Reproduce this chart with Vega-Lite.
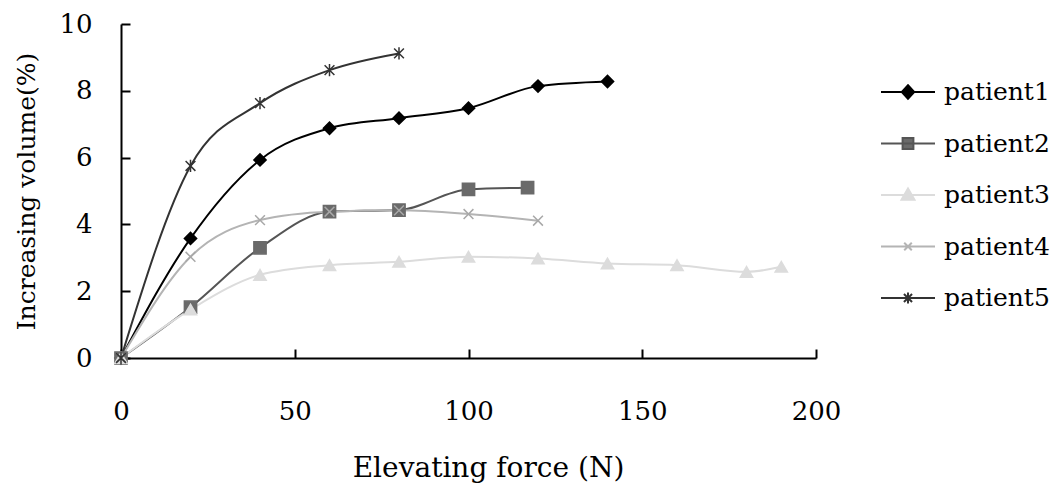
{
  "$schema": "https://vega.github.io/schema/vega-lite/v6.json",
  "width": 695,
  "height": 334,
  "autosize": {"type": "none"},
  "padding": {"left": 121, "top": 24, "right": 239, "bottom": 138},
  "background": "white",
  "data": {
    "values": [
      {"patient": "patient1", "force": 0, "volume": 0},
      {"patient": "patient1", "force": 20, "volume": 3.58},
      {"patient": "patient1", "force": 40, "volume": 5.93},
      {"patient": "patient1", "force": 60, "volume": 6.88},
      {"patient": "patient1", "force": 80, "volume": 7.18},
      {"patient": "patient1", "force": 100, "volume": 7.48},
      {"patient": "patient1", "force": 120, "volume": 8.14},
      {"patient": "patient1", "force": 140, "volume": 8.28},
      {"patient": "patient2", "force": 0, "volume": 0},
      {"patient": "patient2", "force": 20, "volume": 1.52},
      {"patient": "patient2", "force": 40, "volume": 3.3},
      {"patient": "patient2", "force": 60, "volume": 4.38},
      {"patient": "patient2", "force": 80, "volume": 4.43},
      {"patient": "patient2", "force": 100, "volume": 5.05},
      {"patient": "patient2", "force": 117, "volume": 5.1},
      {"patient": "patient3", "force": 0, "volume": 0},
      {"patient": "patient3", "force": 20, "volume": 1.45},
      {"patient": "patient3", "force": 40, "volume": 2.49},
      {"patient": "patient3", "force": 60, "volume": 2.78},
      {"patient": "patient3", "force": 80, "volume": 2.88},
      {"patient": "patient3", "force": 100, "volume": 3.03},
      {"patient": "patient3", "force": 120, "volume": 2.98},
      {"patient": "patient3", "force": 140, "volume": 2.83},
      {"patient": "patient3", "force": 160, "volume": 2.78},
      {"patient": "patient3", "force": 180, "volume": 2.58},
      {"patient": "patient3", "force": 190, "volume": 2.73},
      {"patient": "patient4", "force": 0, "volume": 0},
      {"patient": "patient4", "force": 20, "volume": 3.03},
      {"patient": "patient4", "force": 40, "volume": 4.13},
      {"patient": "patient4", "force": 60, "volume": 4.38},
      {"patient": "patient4", "force": 80, "volume": 4.42},
      {"patient": "patient4", "force": 100, "volume": 4.31},
      {"patient": "patient4", "force": 120, "volume": 4.11},
      {"patient": "patient5", "force": 0, "volume": 0},
      {"patient": "patient5", "force": 20, "volume": 5.75},
      {"patient": "patient5", "force": 40, "volume": 7.63},
      {"patient": "patient5", "force": 60, "volume": 8.62},
      {"patient": "patient5", "force": 80, "volume": 9.12}
    ]
  },
  "config": {
    "font": "DejaVu Serif",
    "view": {"stroke": null},
    "axis": {
      "grid": false,
      "domainColor": "#000000",
      "domainWidth": 2,
      "tickColor": "#000000",
      "tickWidth": 2,
      "tickSize": -9,
      "labelFlush": false,
      "labelColor": "#000000",
      "labelFont": "DejaVu Serif",
      "labelFontSize": 26,
      "labelFontWeight": "normal",
      "titleColor": "#000000",
      "titleFont": "DejaVu Serif",
      "titleFontSize": 25,
      "titleFontWeight": "normal"
    },
    "legend": {
      "labelFont": "DejaVu Serif",
      "labelFontSize": 25,
      "labelColor": "#000000"
    }
  },
  "encoding": {
    "x": {
      "field": "force",
      "type": "quantitative",
      "scale": {"domain": [0, 200], "nice": false},
      "axis": {
        "title": "Elevating force (N)",
        "values": [0, 50, 100, 150, 200],
        "labelPadding": 49,
        "titlePadding": 30,
        "titleFontSize": 28,
        "titleX": 367
      }
    },
    "y": {
      "field": "volume",
      "type": "quantitative",
      "scale": {"domain": [0, 10], "nice": false},
      "axis": {
        "title": "Increasing volume(%)",
        "values": [0, 2, 4, 6, 8, 10],
        "labelPadding": 38,
        "titlePadding": 19
      }
    }
  },
  "layer": [
    {
      "mark": {"type": "line", "interpolate": "monotone", "strokeWidth": 2},
      "encoding": {
        "stroke": {
          "field": "patient",
          "type": "nominal",
          "scale": {
            "domain": ["patient1", "patient2", "patient3", "patient4", "patient5"],
            "range": ["#000000", "#555555", "#dcdcdc", "#b4b4b4", "#333333"]
          },
          "legend": null
        }
      }
    },
    {
      "mark": {"type": "point", "filled": true, "size": 150, "strokeWidth": 1.5, "opacity": 1},
      "encoding": {
        "fill": {
          "field": "patient",
          "type": "nominal",
          "scale": {
            "domain": ["patient1", "patient2", "patient3", "patient4", "patient5"],
            "range": ["#000000", "#6a6a6a", "#dcdcdc", "#b4b4b4", "#333333"]
          },
          "legend": null
        },
        "stroke": {
          "field": "patient",
          "type": "nominal",
          "scale": {
            "domain": ["patient1", "patient2", "patient3", "patient4", "patient5"],
            "range": ["#000000", "#6a6a6a", "#dcdcdc", "#a8a8a8", "#333333"]
          },
          "legend": null
        },
        "shape": {
          "field": "patient",
          "type": "nominal",
          "scale": {
            "domain": ["patient1", "patient2", "patient3", "patient4", "patient5"],
            "range": [
              "diamond",
              "square",
              "triangle-up",
              "M-0.8,-0.8L0.8,0.8M-0.8,0.8L0.8,-0.8",
              "M-0.8,-0.8L0.8,0.8M-0.8,0.8L0.8,-0.8M0,-1V1"
            ]
          },
          "legend": null
        }
      }
    },
    {
      "transform": [{"filter": "false"}],
      "mark": {"type": "point", "filled": true, "size": 2916, "strokeWidth": 2, "opacity": 1},
      "encoding": {
        "fill": {
          "field": "patient",
          "type": "nominal",
          "scale": {
            "domain": ["patient1", "patient2", "patient3", "patient4", "patient5"],
            "range": ["#000000", "#6a6a6a", "#dcdcdc", "#b4b4b4", "#333333"]
          },
          "legend": {
            "title": null,
            "orient": "none",
            "legendX": 759,
            "legendY": 40,
            "padding": 0,
            "rowPadding": 10.5,
            "labelOffset": 8,
            "symbolSize": 2916,
            "symbolStrokeWidth": 2
          }
        },
        "stroke": {
          "field": "patient",
          "type": "nominal",
          "scale": {
            "domain": ["patient1", "patient2", "patient3", "patient4", "patient5"],
            "range": ["#000000", "#555555", "#dcdcdc", "#b4b4b4", "#333333"]
          },
          "legend": {
            "title": null,
            "orient": "none",
            "legendX": 759,
            "legendY": 40,
            "padding": 0,
            "rowPadding": 10.5,
            "labelOffset": 8,
            "symbolSize": 2916,
            "symbolStrokeWidth": 2
          }
        },
        "shape": {
          "field": "patient",
          "type": "nominal",
          "scale": {
            "domain": ["patient1", "patient2", "patient3", "patient4", "patient5"],
            "range": [
              "M-1,0H1M0,-0.25L0.23,0L0,0.25L-0.23,0Z",
              "M-1,0H1M-0.2,-0.2H0.2V0.2H-0.2Z",
              "M-1,0H1M0,-0.24L0.24,0.18H-0.24Z",
              "M-1,0H1M-0.14,-0.14L0.14,0.14M-0.14,0.14L0.14,-0.14",
              "M-1,0H1M-0.15,-0.15L0.15,0.15M-0.15,0.15L0.15,-0.15M0,-0.2V0.2"
            ]
          },
          "legend": {
            "title": null,
            "orient": "none",
            "legendX": 759,
            "legendY": 40,
            "padding": 0,
            "rowPadding": 10.5,
            "labelOffset": 8,
            "symbolSize": 2916,
            "symbolStrokeWidth": 2
          }
        }
      }
    }
  ],
  "resolve": {
    "scale": {"fill": "independent", "stroke": "independent", "shape": "independent"}
  }
}
